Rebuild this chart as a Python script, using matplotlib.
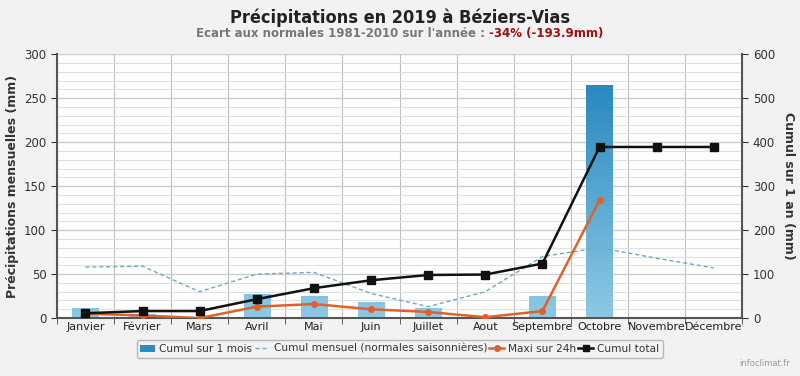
import matplotlib.pyplot as plt
import numpy as np
from matplotlib.colors import LinearSegmentedColormap
from matplotlib.lines import Line2D
from matplotlib.patches import Patch

months = ["Janvier", "Février", "Mars", "Avril", "Mai", "Juin", "Juillet",
          "Aout", "Septembre", "Octobre", "Novembre", "Décembre"]
cumul_mois = [11, 5, 0, 27, 25, 18, 12, 1, 25, 265, 0, 0]
normales = [58, 59, 30, 50, 52, 28, 13, 30, 70, 80, 68, 57]
maxi_24h = [5, 3, 0, 13, 16, 10, 7, 1, 8, 134, np.nan, np.nan]
cumul_total = [11, 16, 16, 43, 68, 86, 98, 99, 124, 389, 389, 389]

plt.rcParams['font.family'] = ['DejaVu Sans']

fig = plt.figure(figsize=(8, 3.76), dpi=100)
fig.patch.set_facecolor("#f2f2f2")
ax = fig.add_axes([0.071, 0.154, 0.857, 0.702])
ax2 = ax.twinx()

x = np.arange(len(months))

# bars with vertical gradient (absolute, relative to the plot height)
cmap = LinearSegmentedColormap.from_list("bl", ["#8ec9e5", "#1a80ba"])
grad = np.linspace(0, 1, 256).reshape(-1, 1)
bars = ax.bar(x, cumul_mois, 0.46, color="none", edgecolor="none", zorder=2)
for b in bars:
    if b.get_height() <= 0:
        continue
    im = ax.imshow(grad, extent=(-0.5, 11.5, 0, 300), origin="lower",
                   cmap=cmap, aspect="auto", zorder=2)
    im.set_clip_path(b)
ax.set_xlim(-0.5, 11.5)
ax.set_ylim(0, 300)
ax2.set_ylim(0, 600)

ax.plot(x, normales, color="#6fa9c4", lw=1, ls=(0, (3, 2)), zorder=3)
ax.plot(x, maxi_24h, color="#e0622a", lw=1.8, marker="o", ms=4, zorder=4)
ax2.plot(x, cumul_total, color="#111111", lw=1.8, marker="s", ms=6, zorder=5)

# grid and ticks
ax.set_xticks(x)
ax.set_xticklabels(months)
ax.set_xticks(np.arange(-0.5, 12, 1), minor=True)
ax.tick_params(axis="x", which="major", length=0, pad=3, labelsize=8, colors="#222222")
ax.tick_params(axis="x", which="minor", length=4, color="#444444")
ax.set_yticks(np.arange(0, 301, 50))
ax.set_yticks(np.arange(0, 301, 10), minor=True)
ax.tick_params(axis="y", which="major", length=4, labelsize=8.5, colors="#333333")
ax.tick_params(axis="y", which="minor", length=0)
ax.grid(True, axis="x", which="minor", color="#bdbdbd", lw=0.8, zorder=0)
ax.grid(True, axis="y", which="minor", color="#e0e0e0", lw=0.8, zorder=0)
ax.grid(True, axis="y", which="major", color="#cccccc", lw=1, zorder=0)
ax.set_axisbelow(True)

ax2.set_yticks(np.arange(0, 601, 100))
ax2.tick_params(axis="y", length=4, labelsize=8.5, colors="#333333")

for a in (ax, ax2):
    for s in a.spines.values():
        s.set_visible(False)
for sp in (ax.spines["left"], ax.spines["bottom"], ax2.spines["right"]):
    sp.set_visible(True)
    sp.set_color("#555555")
    sp.set_linewidth(1.5)

ax.set_ylabel("Précipitations mensuelles (mm)", fontsize=9, fontweight="bold",
              color="#333333", labelpad=4)
ax2.set_ylabel("Cumul sur 1 an (mm)", fontsize=9, fontweight="bold",
               color="#333333", rotation=270, labelpad=14)

# titles
fig.text(0.5, 0.953, "Précipitations en 2019 à Béziers-Vias", ha="center", va="center",
         fontsize=13, fontweight="bold", color="#222222", fontstretch="condensed")
t1 = fig.text(0.5, 0.912, "Ecart aux normales 1981-2010 sur l'année : ", ha="right",
              va="center", fontsize=8.5, fontweight="bold", color="#777777")
t2 = fig.text(0, 0.912, "-34% (-193.9mm)", ha="left", va="center", fontsize=8.5,
              fontweight="bold", color="#a01010")
fig.canvas.draw()
w = t1.get_window_extent().width
w2 = t2.get_window_extent().width
x0 = (800 - (w + w2)) / 2 / 800
t1.set_position((x0 + w / 800, 0.912))
t2.set_position((x0 + w / 800, 0.912))

handles = [
    Patch(facecolor="#2a8cc0", edgecolor="none"),
    Line2D([], [], color="#6fa9c4", lw=1, ls=(0, (3, 2))),
    Line2D([], [], color="#e0622a", lw=1.8, marker="o", ms=4),
    Line2D([], [], color="#111111", lw=1.8, marker="s", ms=5),
]
labels = ["Cumul sur 1 mois", "Cumul mensuel (normales saisonnières)",
          "Maxi sur 24h", "Cumul total"]
leg = fig.legend(handles, labels, loc="center", bbox_to_anchor=(0.5, 0.072), ncol=4,
                 fontsize=7.6, frameon=True, handlelength=1.4, handletextpad=0.4,
                 columnspacing=0.2, borderpad=0.35, fancybox=True)
leg.get_frame().set_edgecolor("#aaaaaa")
leg.get_frame().set_facecolor("#f4f4f4")
for t in leg.get_texts():
    t.set_color("#333333")

fig.text(0.988, 0.02, "infoclimat.fr", ha="right", va="bottom", fontsize=6, color="#999999")

fig.savefig("out.png", dpi=100, facecolor=fig.get_facecolor())
